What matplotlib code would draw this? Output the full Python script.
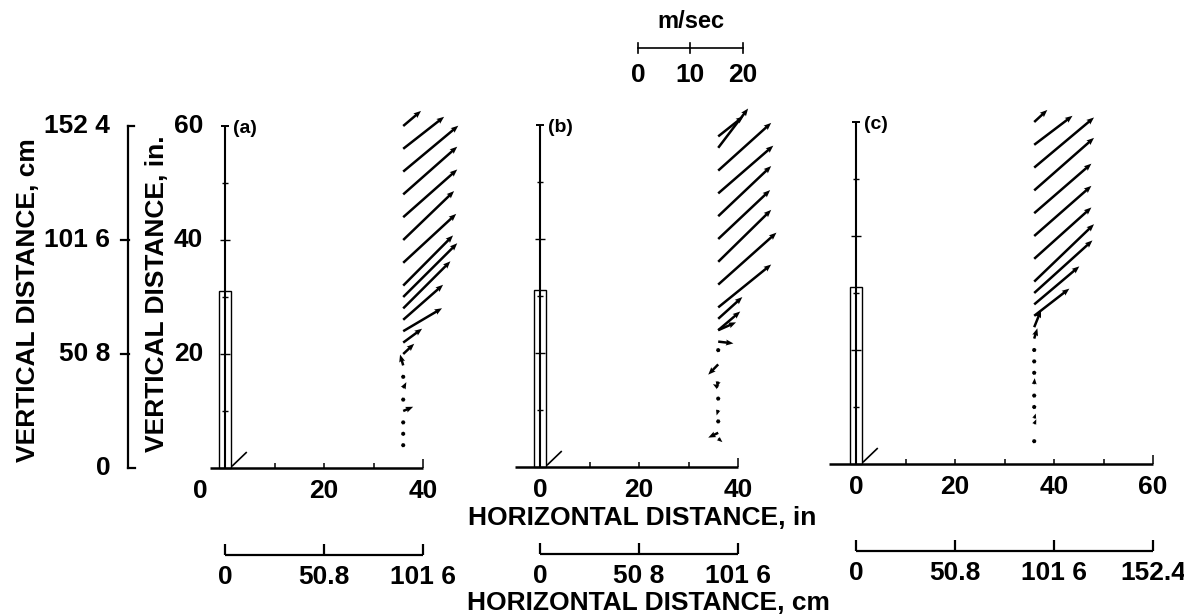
import numpy as np
import matplotlib
matplotlib.use('Agg')
import matplotlib.pyplot as plt
from matplotlib.patches import Rectangle

plt.rcParams['font.family'] = ['Liberation Sans', 'DejaVu Sans']
plt.rcParams['font.weight'] = 'bold'

# ---------------- data ----------------
# probe station (in) and velocity vectors (m/sec) at each height (in)
station = 36.0

z_a = [60, 56, 52, 48, 44, 40, 36, 32, 30, 28, 26, 24, 22, 20, 18, 16, 14, 12, 10, 8, 6, 4]
u_a = [3.4, 7.8, 10.5, 10.3, 10.3, 9.7, 10.1, 9.5, 10.3, 9.0, 7.6, 7.4, 3.6, 2.1,
       -0.6, 0.2, 0.6, 0.2, 1.9, 0.1, 0.4, 0.3]
w_a = [2.5, 5.3, 7.6, 7.9, 7.9, 8.1, 8.1, 8.3, 8.9, 7.8, 5.8, 3.8, 2.3, 1.7,
       1.8, -0.4, 1.0, -0.4, 0.7, 0.2, 0.2, 0.5]

z_b = [58, 56, 52, 48, 44, 40, 36, 32, 28, 26, 24, 24, 22, 20.5, 18, 15, 14, 12, 10, 8, 6, 5]
u_b = [4.8, 5.7, 10.1, 10.5, 10.1, 9.9, 10.1, 11.1, 10.1, 4.6, 4.2, 3.4, 2.9, 0.3,
       -1.9, -0.3, -1.0, -0.3, -0.3, 0.3, -1.9, 0.8]
w_b = [3.3, 6.5, 7.9, 7.9, 8.3, 8.1, 8.6, 8.6, 7.1, 3.6, 3.1, 1.3, -0.3, -0.3,
       -1.7, -1.0, 0.5, 0.3, -0.9, -0.5, -0.8, -0.6]

z_c = [60, 56, 52, 48, 44, 40, 36, 32, 30, 28, 26, 24, 22, 20, 18, 16, 14, 12, 10, 8, 7, 4]
u_c = [2.5, 7.3, 11.4, 11.4, 10.9, 10.9, 10.9, 11.4, 11.1, 8.6, 6.7, 1.3, 0.6, 0.1,
       0.1, 0.2, 0.1, 0.1, 0.2, 0.3, 0.4, 0.1]
w_c = [2.0, 4.8, 8.3, 8.7, 8.2, 8.3, 8.5, 9.5, 8.7, 6.3, 4.5, 2.8, 1.7, 0.2,
       0.2, 0.5, 1.0, 0.2, 0.6, 0.8, 0.8, 0.2]

rod_height = 31.0   # in

x_ticks_ab = [0, 20, 40]
x_ticks_c = [0, 20, 40, 60]
cm_labels_a = ['0', '50.8', '101 6']
cm_labels_b = ['0', '50 8', '101 6']
cm_labels_c = ['0', '50.8', '101 6', '152.4']
y_ticks_in = [20, 40, 60]
y_ticks_cm = [0, 20, 40, 60]
y_labels_cm = ['0', '50 8', '101 6', '152 4']
speed_ticks = [0, 10, 20]   # m/sec

# ---------------- layout ----------------
W_PX, H_PX = 1184, 616
PXX = 4.95      # px per inch, horizontal
PXY = 5.7       # px per inch, vertical
VSC = 1.06      # inches of plot per m/sec
FS = 19         # tick labels
FT = 19         # axis titles

fig = plt.figure(figsize=(W_PX / 100, H_PX / 100), dpi=100)


def panel_axes(x0, y0, xmin, xmax, ymin=-2, ymax=64):
    left = x0 + xmin * PXX
    right = x0 + xmax * PXX
    bottom = y0 - ymin * PXY
    top = y0 - ymax * PXY
    ax = fig.add_axes([left / W_PX, 1 - bottom / H_PX,
                       (right - left) / W_PX, (bottom - top) / H_PX])
    ax.set_xlim(xmin, xmax)
    ax.set_ylim(ymin, ymax)
    ax.axis('off')
    return ax


def draw_panel(ax, z, u, w, xend, xstart, ticks, cm_labels, letter, zero_x=0.0):
    k = dict(color='k', clip_on=False, solid_capstyle='butt')
    # vertical axis with rod
    ax.plot([0, 0], [0, 60], lw=1.5, **k)
    ax.plot([-0.9, 0.9], [60, 60], lw=1.4, **k)
    for yt in [10, 20, 30, 40, 50]:
        h = 1.1 if yt in (20, 40) else 0.6
        ax.plot([-h, h], [yt, yt], lw=1.0, **k)
    ax.add_patch(Rectangle((-1.25, 0), 2.5, rod_height, fill=False, lw=1.0,
                           ec='k', clip_on=False))
    ax.plot([1.4, 4.4], [0.3, 2.8], lw=1.2, **k)
    # horizontal axis
    ax.plot([xstart, xend], [0, 0], lw=1.8, **k)
    for xt in range(10, xend + 1, 10):
        h = 1.6 if xt == xend else 0.8
        ax.plot([xt, xt], [0, h], lw=1.1, **k)
    for xt in ticks:
        xx = zero_x if xt == 0 else xt
        ax.text(xx, -4.0, str(xt), ha='center', va='center', fontsize=FS)
    # cm scale bar
    cy = -15.3
    ax.plot([0, xend], [cy, cy], lw=1.6, **k)
    for xt in ticks:
        ax.plot([xt, xt], [cy, cy + 2.0], lw=1.6, **k)
    for xt, lab in zip(ticks, cm_labels):
        ax.text(xt, -19.2, lab, ha='center', va='center', fontsize=FS)
    ax.text(1.6, 59.6, letter, ha='left', va='center', fontsize=14)
    # velocity vectors
    ax.quiver(np.full(len(z), station), z, u, w, angles='xy', scale_units='xy',
              scale=1 / VSC, units='dots', width=2.5, headwidth=2.4,
              headlength=3.0, headaxislength=2.7, minlength=1.8,
              color='k', clip_on=False)


ax_a = panel_axes(225, 468, -6, 50)
ax_b = panel_axes(540, 467, -6, 50)
ax_c = panel_axes(856, 464, -6, 62)

draw_panel(ax_a, z_a, u_a, w_a, 40, -3, x_ticks_ab, cm_labels_a, '(a)', zero_x=-5.0)
draw_panel(ax_b, z_b, u_b, w_b, 40, -5, x_ticks_ab, cm_labels_b, '(b)')
draw_panel(ax_c, z_c, u_c, w_c, 60, -5.5, x_ticks_c, cm_labels_c, '(c)')

# y tick labels (in) for panel a
for yt in y_ticks_in:
    ax_a.text(-4.4, yt, str(yt), ha='right', va='center', fontsize=FS)

# left cm axis
xc = -19.6
kk = dict(color='k', clip_on=False, lw=1.6)
ax_a.plot([xc, xc], [0, 60], **kk)
ax_a.plot([xc, xc + 1.2], [60, 60], **kk)
ax_a.plot([xc, xc + 1.4], [0, 0], **kk)
for yt in [20, 40]:
    ax_a.plot([xc - 1.4, xc + 0.3], [yt, yt], **kk)
for yt, lab in zip(y_ticks_cm, y_labels_cm):
    ax_a.text(-23.2, yt, lab, ha='right', va='center', fontsize=FS)

ax_a.text(-39.8, 29.5, 'VERTICAL DISTANCE, cm', rotation=90, ha='center',
          va='center', fontsize=FT)
ax_a.text(-13.7, 30.5, 'VERTICAL DISTANCE, in.', rotation=90, ha='center',
          va='center', fontsize=FT)

# velocity scale (m/sec), drawn in panel b units
sx0, sy = 19.8, 73.5
sx = [sx0 + s * VSC for s in speed_ticks]
ax_b.plot([sx[0], sx[-1]], [sy, sy], color='k', lw=1.2, clip_on=False)
for x, s in zip(sx, speed_ticks):
    ax_b.plot([x, x], [sy - 0.8, sy + 0.8], color='k', lw=1.2, clip_on=False)
    ax_b.text(x, sy - 4.8, str(s), ha='center', va='center', fontsize=FS)
ax_b.text(sx[1], sy + 4.6, 'm/sec', ha='center', va='center', fontsize=17)

fig.text(642 / W_PX, 1 - 518 / H_PX, 'HORIZONTAL DISTANCE, in', ha='center',
         va='center', fontsize=FT)
fig.text(648 / W_PX, 1 - 603 / H_PX, 'HORIZONTAL DISTANCE, cm', ha='center',
         va='center', fontsize=FT)

fig.savefig('out.png', dpi=100)
